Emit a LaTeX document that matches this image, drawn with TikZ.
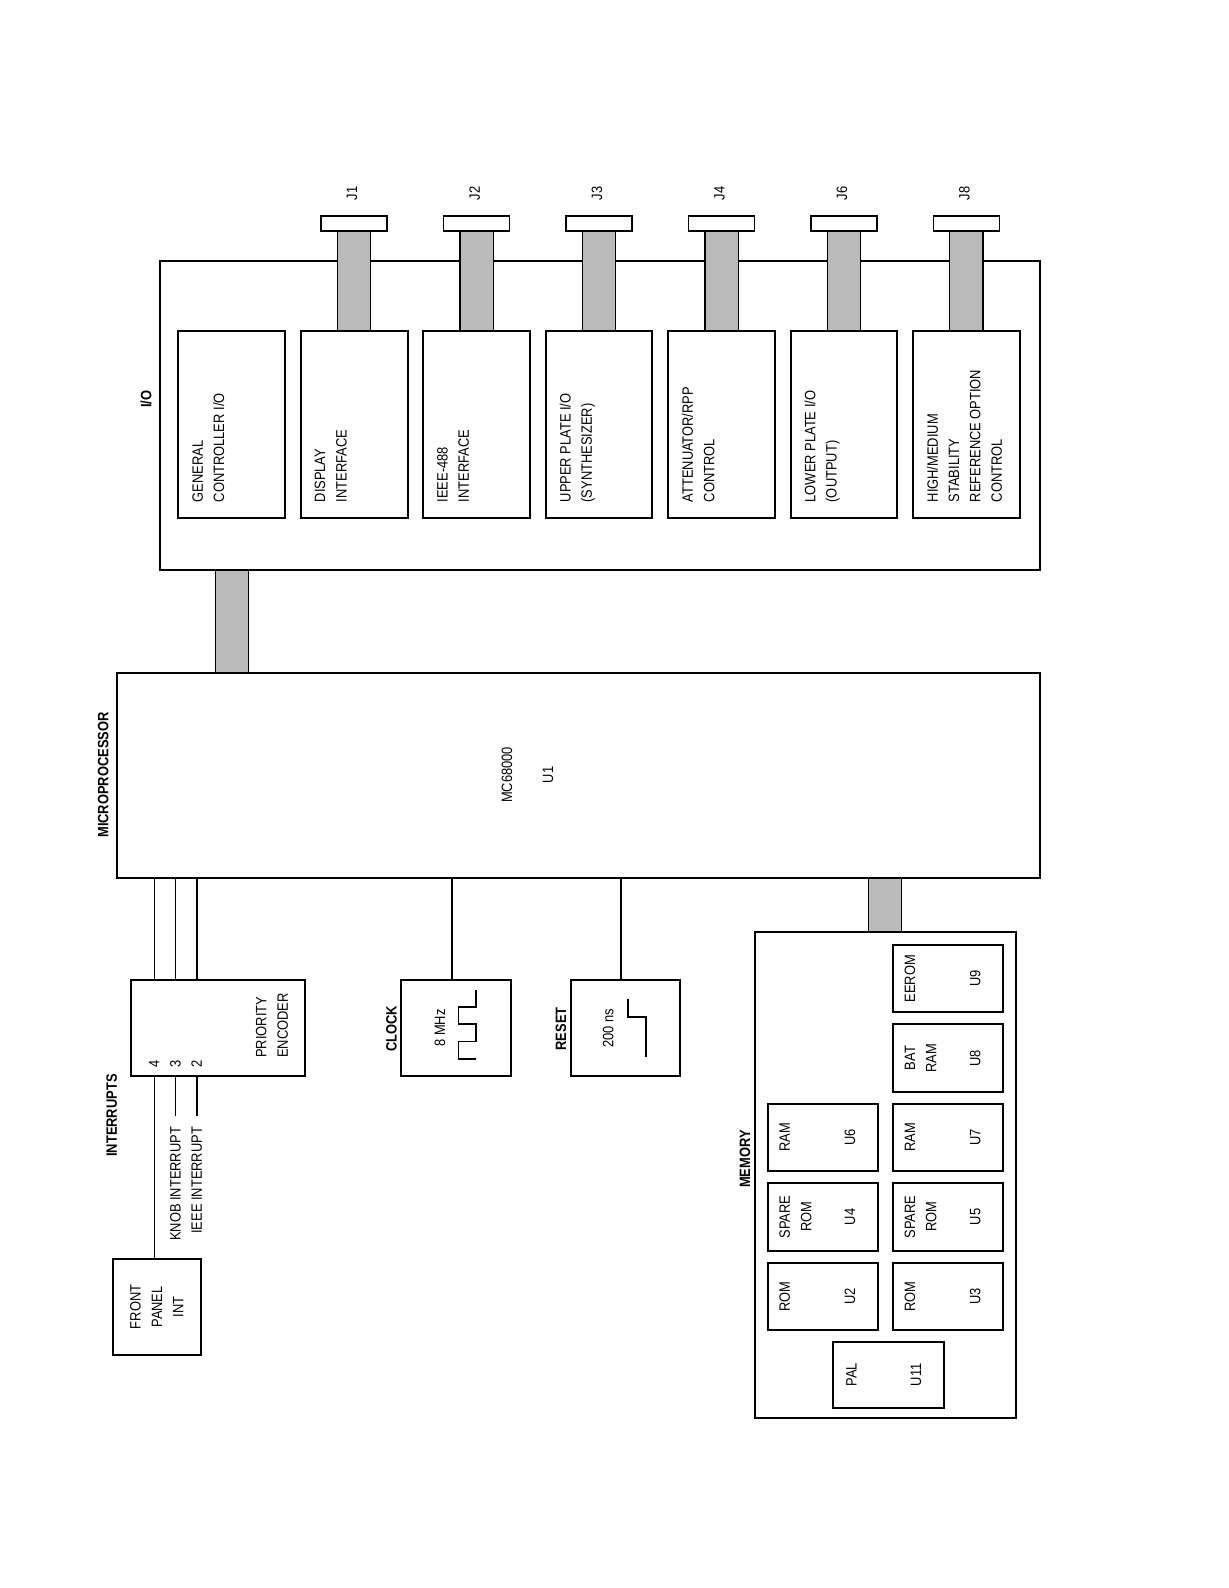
\documentclass[tikz,border=0pt]{standalone}
\usepackage{fontspec}
\setmainfont{Liberation Sans}[FakeStretch=0.86]
\newcommand\lbfont{\fontsize{7.5}{10.65}\selectfont}

\begin{document}
\begin{tikzpicture}[x=0.5pt,y=-0.5pt,
  blk/.style={draw,line width=1pt,inner sep=0pt},
  iobox/.style={blk,minimum width=53.4pt,minimum height=93.35pt},
  chip/.style={blk,minimum width=55pt,minimum height=33.7pt},
  txt/.style={rotate=90,inner sep=0pt,font=\lbfont},
  ttl/.style={txt,font=\lbfont\bfseries},
  jack/.style={draw,line width=0.8pt,minimum width=33pt,minimum height=7.5pt,inner sep=0pt},
  bus/.style={line width=0.6pt,double=black!27,double distance=16pt},
  wire/.style={line width=0.8pt}]
  \path[use as bounding box,fill=white] (0,0) rectangle (1228,1588);

  % I/O board
  \node[blk,minimum width=439.85pt,minimum height=154.25pt] (io) at (599.85,415.25) {};
  \node[ttl] (iot) at (146,399) {I/O};
  \node[iobox] (gc) at (231.7,424.35) {};
  \node[iobox] (di) at (354.15,424.35) {};
  \node[iobox] (ie) at (476.6,424.35) {};
  \node[iobox] (up) at (599.05,424.35) {};
  \node[iobox] (at) at (721.5,424.35) {};
  \node[iobox] (lp) at (843.95,424.35) {};
  \node[iobox] (hm) at (966.4,424.35) {};
  \node[txt,anchor=north west,align=left] (gcl) at ([xshift=7.3pt,yshift=8pt]gc.south west) {GENERAL\\CONTROLLER I/O};
  \node[txt,anchor=north west,align=left] (dil) at ([xshift=7.3pt,yshift=8pt]di.south west) {DISPLAY\\INTERFACE};
  \node[txt,anchor=north west,align=left] (iel) at ([xshift=7.3pt,yshift=8pt]ie.south west) {IEEE-488\\INTERFACE};
  \node[txt,anchor=north west,align=left] (upl) at ([xshift=7.3pt,yshift=8pt]up.south west) {UPPER PLATE I/O\\(SYNTHESIZER)};
  \node[txt,anchor=north west,align=left] (atl) at ([xshift=7.3pt,yshift=8pt]at.south west) {ATTENUATOR/RPP\\CONTROL};
  \node[txt,anchor=north west,align=left] (lpl) at ([xshift=7.3pt,yshift=8pt]lp.south west) {LOWER PLATE I/O\\(OUTPUT)};
  \node[txt,anchor=north west,align=left] (hml) at ([xshift=7.3pt,yshift=8pt]hm.south west) {HIGH/MEDIUM\\STABILITY\\REFERENCE OPTION\\CONTROL};

  % connectors
  \node[jack] (j1c) at (di.north |- 0,223.6) {};
  \node[jack] (j2c) at (ie.north |- 0,223.6) {};
  \node[jack] (j3c) at (up.north |- 0,223.6) {};
  \node[jack] (j4c) at (at.north |- 0,223.6) {};
  \node[jack] (j6c) at (lp.north |- 0,223.6) {};
  \node[jack] (j8c) at (hm.north |- 0,223.6) {};
  \node[txt,anchor=west] (j1) at ([xshift=-1pt,yshift=7.3pt]j1c.north) {J1};
  \node[txt,anchor=west] (j2) at ([xshift=-1pt,yshift=7.3pt]j2c.north) {J2};
  \node[txt,anchor=west] (j3) at ([xshift=-1pt,yshift=7.3pt]j3c.north) {J3};
  \node[txt,anchor=west] (j4) at ([xshift=-1pt,yshift=7.3pt]j4c.north) {J4};
  \node[txt,anchor=west] (j6) at ([xshift=-1pt,yshift=7.3pt]j6c.north) {J6};
  \node[txt,anchor=west] (j8) at ([xshift=-1pt,yshift=7.3pt]j8c.north) {J8};
  \draw[bus] (j1c.south) -- (di.north);
  \draw[bus] (j2c.south) -- (ie.north);
  \draw[bus] (j3c.south) -- (up.north);
  \draw[bus] (j4c.south) -- (at.north);
  \draw[bus] (j6c.south) -- (lp.north);
  \draw[bus] (j8c.south) -- (hm.north);

  % microprocessor
  \node[blk,minimum width=461.15pt,minimum height=102.75pt] (mp) at (578.55,775.25) {};
  \node[ttl] (mpt) at (103.3,775) {MICROPROCESSOR};
  \node[txt] (mc) at (507,775) {MC68000};
  \node[txt] (u1) at (548,775) {U1};
  \draw[bus] (gc.center |- io.south) -- (gc.center |- mp.north);

  % interrupts
  \node[blk,minimum width=87.1pt,minimum height=47.75pt] (pe) at (217.9,1027.75) {};
  \node[txt,anchor=north west,align=left] (pel) at (255.6,1058) {PRIORITY\\ENCODER};
  \node[ttl] (intt) at (111.6,1115.5) {INTERRUPTS};
  \coordinate (w4) at (154.3,0);
  \coordinate (w3) at (175.5,0);
  \coordinate (w2) at (196.7,0);
  \draw[wire] (mp.south -| w4) -- (pe.north -| w4);
  \draw[wire] (mp.south -| w3) -- (pe.north -| w3);
  \draw[wire] (mp.south -| w2) -- (pe.north -| w2);
  \node[txt] (n4) at (w4 |- 0,1064) {4};
  \node[txt] (n3) at (w3 |- 0,1064) {3};
  \node[txt] (n2) at (w2 |- 0,1064) {2};
  \node[blk,minimum width=43.8pt,minimum height=47.6pt] (fp) at (156.8,1306.9) {};
  \node[txt,align=center] (fpl) at (fp.center) {FRONT\\PANEL\\INT};
  \draw[wire] (pe.south -| w4) -- (fp.north -| w4);
  \node[txt,anchor=east] (knob) at (w3 |- 0,1126.5) {KNOB INTERRUPT};
  \node[txt,anchor=east] (ieee) at (w2 |- 0,1126.5) {IEEE INTERRUPT};
  \draw[wire] (pe.south -| knob.east) -- ([yshift=5.5pt]knob.east);
  \draw[wire] (pe.south -| ieee.east) -- ([yshift=5.5pt]ieee.east);

  % clock and reset
  \node[blk,minimum width=54.85pt,minimum height=47.75pt] (clk) at (455.85,1027.75) {};
  \node[ttl] (clkt) at (391.5,1029) {CLOCK};
  \node[txt] (mhz) at (440,1028) {8 MHz};
  \draw[wire] (mp.south -| 452,0) -- (clk.north -| 452,0);
  \draw[wire] (476,990) -- (476,1007) -- (458.5,1007) -- (458.5,1024) -- (476,1024)
    -- (476,1041.5) -- (458.5,1041.5) -- (458.5,1059) -- (476,1059);
  \node[blk,minimum width=54.65pt,minimum height=47.75pt] (rst) at (625.35,1027.75) {};
  \node[ttl] (rstt) at (561,1029) {RESET};
  \node[txt] (ns) at (608.3,1028) {200 ns};
  \draw[wire] (mp.south -| 621.2,0) -- (rst.north -| 621.2,0);
  \draw[wire] (627.7,999.3) -- (627.7,1016.7) -- (645.7,1016.7) -- (645.7,1057.3);

  % memory
  \node[blk,minimum width=130.6pt,minimum height=242.85pt] (mem) at (885.1,1175.15) {};
  \node[ttl] (memt) at (745,1159) {MEMORY};
  \draw[bus] (mem.north) -- (mem.north |- mp.south);
  \node[chip] (u9) at (947.7,978.7) {};
  \node[chip] (u8) at (947.7,1058.1) {};
  \node[chip] (u7) at (947.7,1137.5) {};
  \node[chip] (u6) at (822.5,1137.5) {};
  \node[chip] (u5) at (947.7,1216.9) {};
  \node[chip] (u4) at (822.5,1216.9) {};
  \node[chip] (u3) at (947.7,1296.3) {};
  \node[chip] (u2) at (822.5,1296.3) {};
  \node[blk,minimum width=55.35pt,minimum height=33pt] (u11) at (888.65,1374.7) {};
  \node[txt,anchor=north,align=center] (u9a) at ([xshift=6.3pt]u9.west) {EEROM};
  \node[txt,anchor=north,align=center] (u8a) at ([xshift=6.3pt]u8.west) {BAT\\RAM};
  \node[txt,anchor=north,align=center] (u7a) at ([xshift=6.3pt]u7.west) {RAM};
  \node[txt,anchor=north,align=center] (u6a) at ([xshift=6.3pt]u6.west) {RAM};
  \node[txt,anchor=north,align=center] (u5a) at ([xshift=6.3pt]u5.west) {SPARE\\ROM};
  \node[txt,anchor=north,align=center] (u4a) at ([xshift=6.3pt]u4.west) {SPARE\\ROM};
  \node[txt,anchor=north,align=center] (u3a) at ([xshift=6.3pt]u3.west) {ROM};
  \node[txt,anchor=north,align=center] (u2a) at ([xshift=6.3pt]u2.west) {ROM};
  \node[txt,anchor=north,align=center] (u11a) at ([xshift=6.8pt]u11.west) {PAL};
  \node[txt] (u9b) at ([xshift=13.75pt]u9.center) {U9};
  \node[txt] (u8b) at ([xshift=13.75pt]u8.center) {U8};
  \node[txt] (u7b) at ([xshift=13.75pt]u7.center) {U7};
  \node[txt] (u6b) at ([xshift=13.75pt]u6.center) {U6};
  \node[txt] (u5b) at ([xshift=13.75pt]u5.center) {U5};
  \node[txt] (u4b) at ([xshift=13.75pt]u4.center) {U4};
  \node[txt] (u3b) at ([xshift=13.75pt]u3.center) {U3};
  \node[txt] (u2b) at ([xshift=13.75pt]u2.center) {U2};
  \node[txt] (u11b) at ([xshift=13.7pt]u11.center) {U11};
\end{tikzpicture}
\end{document}
